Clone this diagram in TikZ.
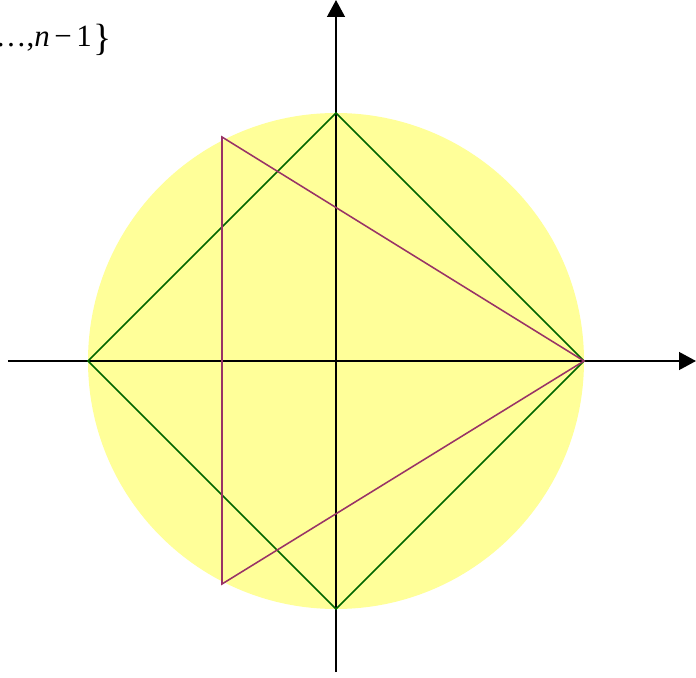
\documentclass[tikz,border=0pt]{standalone}
\usepackage{fontspec}
\setmainfont{Liberation Serif}
\usetikzlibrary{arrows.meta}
\definecolor{disc}{HTML}{FFFF99}
\definecolor{sqgreen}{HTML}{006600}
\definecolor{trimag}{HTML}{993366}

\begin{document}
\begin{tikzpicture}[
  x=0.025cm, y=0.025cm,
  axis/.style={line width=1.4pt, -{Triangle[length=0.42cm, width=0.44cm]}},
  square/.style={draw=sqgreen, line width=1.1pt, line join=miter},
  tri/.style={draw=trimag, line width=1.1pt, line join=miter},
]
  \useasboundingbox (-336,-316) rectangle (360,361);

  % unit disc
  \fill[disc] (0,0) circle (248);

  % vertices
  \coordinate (o) at (0,0);
  \coordinate (p0) at (248,0);
  \coordinate (p1) at (0,248);
  \coordinate (p2) at (-248,0);
  \coordinate (p3) at (0,-248);
  \coordinate (t1) at (-114,224);
  \coordinate (t2) at (-114,-223);

  % axes
  \coordinate (xl) at (-328,0);
  \coordinate (xr) at (360,0);
  \coordinate (yb) at (0,-311);
  \coordinate (yt) at (0,361);
  \draw[axis] (xl) -- (xr);
  \draw[axis] (yb) -- (yt);

  % polygons
  \draw[square] (p0) -- (p1) -- (p2) -- (p3) -- cycle;
  \draw[tri] (p0) -- (t1) -- (t2) -- cycle;

  % label
  \node[anchor=base east, inner sep=0pt, font=\fontsize{22}{26}\selectfont]
    (set) at (-224,314) {\ldots,\textit{n}\kern0.15em−\kern0.15em1\kern0.05em\raisebox{-0.1em}{\fontsize{27}{30}\selectfont\}}};
\end{tikzpicture}
\end{document}
